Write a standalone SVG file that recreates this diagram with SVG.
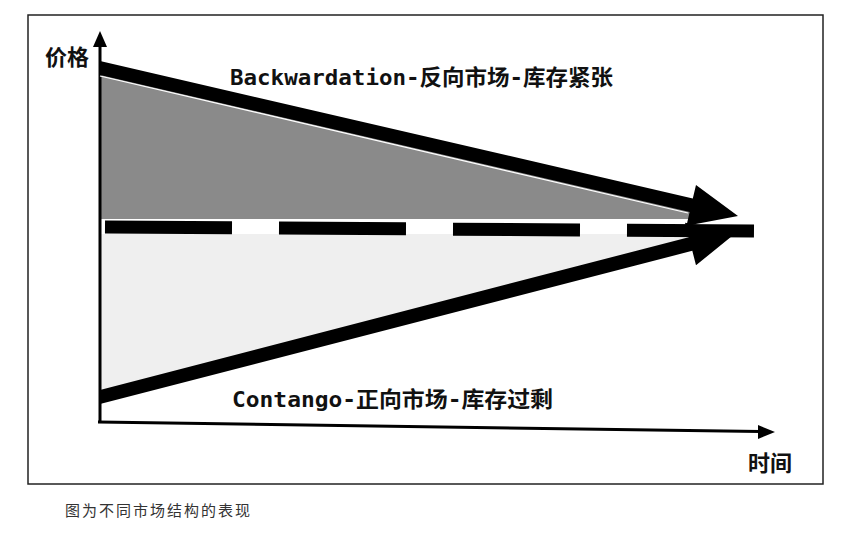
<svg xmlns="http://www.w3.org/2000/svg" width="846" height="542" viewBox="0 0 846 542">
<style>
.lbl{font-family:"DejaVu Sans Mono","Noto Sans CJK SC",monospace;font-weight:bold;font-size:22px;fill:#111}
.ax{font-family:"Noto Sans CJK SC",sans-serif;font-weight:bold;font-size:22px;fill:#111}
.cap{font-family:"Noto Sans CJK SC",sans-serif;font-size:15px;fill:#333}
.blk{fill:#000}
</style>
<rect width="846" height="542" fill="#fff"/>
<g id="frame"><rect x="28" y="15" width="795" height="469" fill="none" stroke="#222" stroke-width="1.5"/></g>
<g id="region-backwardation"><polygon points="100,74 712,216 712,219 100,219" fill="#8a8a8a"/></g>
<g id="region-contango"><polygon points="100,234 712,234 100,391" fill="#efefef"/></g>
<g id="axes">
<line x1="100" y1="423" x2="100" y2="44" stroke="#000" stroke-width="3"/>
<polygon points="100,31 93,47 107,47" class="blk"/>
<line x1="98" y1="422" x2="760" y2="431.5" stroke="#000" stroke-width="3"/>
<polygon points="775,432 758,425 758,439" class="blk"/>
</g>
<g id="connectors">
<line x1="105" y1="227" x2="755" y2="231" stroke="#000" stroke-width="13" stroke-dasharray="127 47"/>
<polygon id="arrow-backwardation" points="100,61 692.8,198.4 696,185 738,216 686.5,225.7 689.6,212 100,75" class="blk"/>
<line x1="100" y1="76" x2="688" y2="213" stroke="#fff" stroke-width="1.2"/>
<polygon id="arrow-contango" points="100,390 688.7,237.2 685,222.7 737,232 696,265.3 692.3,250.8 100,404" class="blk"/>
</g>
<g id="label-price"><text x="45" y="65" class="ax">价格</text></g>
<g id="label-time"><text x="748" y="471" class="ax">时间</text></g>
<g id="label-backwardation"><text x="230" y="85" class="lbl" textLength="383" lengthAdjust="spacingAndGlyphs">Backwardation-反向市场-库存紧张</text></g>
<g id="label-contango"><text x="232" y="407" class="lbl" textLength="321" lengthAdjust="spacingAndGlyphs">Contango-正向市场-库存过剩</text></g>
<g id="caption"><text x="65" y="516" class="cap" textLength="185" lengthAdjust="spacing">图为不同市场结构的表现</text></g>
</svg>
